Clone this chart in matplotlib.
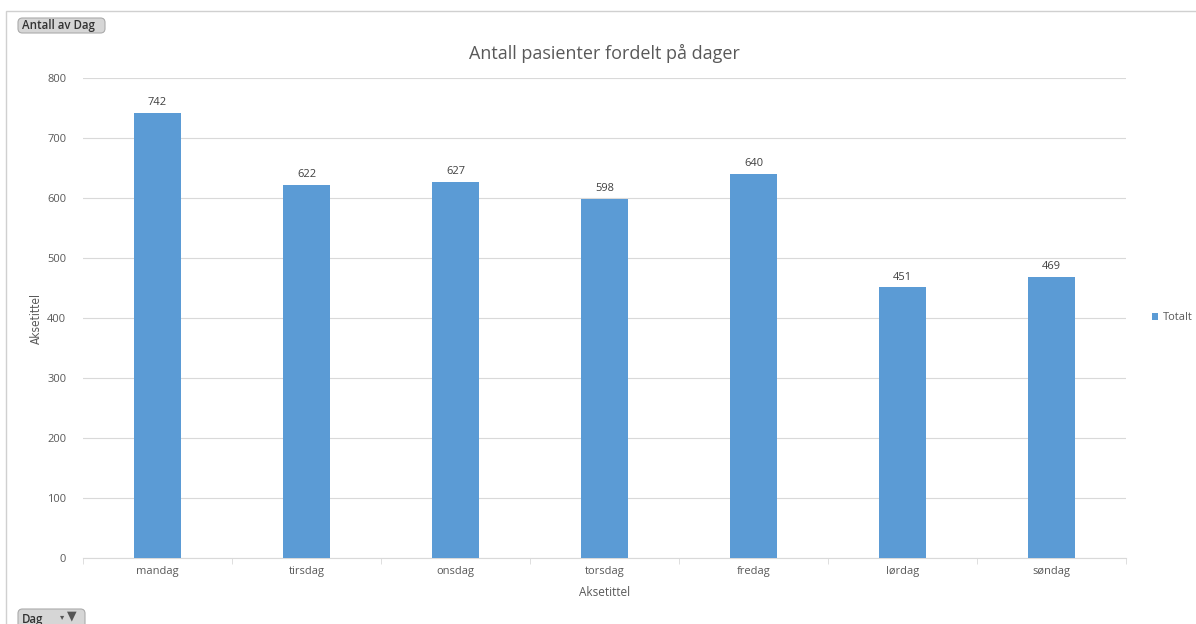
import matplotlib.pyplot as plt
from matplotlib.patches import FancyBboxPatch, Rectangle
from matplotlib.ticker import FixedLocator

# === Data ===
days = ["mandag", "tirsdag", "onsdag", "torsdag", "fredag", "lørdag", "søndag"]
totals = [742, 622, 627, 598, 640, 451, 469]

plt.rcParams['font.family'] = ['Open Sans', 'DejaVu Sans']

bar_color = "#5B9BD5"
grid_color = "#D9D9D9"
text_color = "#595959"

fig = plt.figure(figsize=(11.96, 6.24), dpi=100)
ax = fig.add_axes([83/1196, 1 - 558/624, (1126 - 83)/1196, (558 - 78)/624])

x = list(range(len(days)))
bars = ax.bar(x, totals, width=0.32, color=bar_color, zorder=3)

for b, v in zip(bars, totals):
    ax.annotate(str(v), (b.get_x() + b.get_width()/2, v), xytext=(0, 3.5),
                textcoords="offset points", ha="center", va="bottom",
                fontsize=8, color="#404040")

ax.set_xlim(-0.5, len(days) - 0.5)
ax.set_ylim(0, 800)
ax.set_yticks(range(0, 801, 100))
ax.set_xticks(x)
ax.set_xticklabels(days)
ax.xaxis.set_minor_locator(FixedLocator([i + 0.5 for i in range(-1, len(days))]))

ax.grid(axis='y', color=grid_color, linewidth=0.8, zorder=0)
for s in ["top", "right", "left"]:
    ax.spines[s].set_visible(False)
ax.spines["bottom"].set_color(grid_color)

ax.tick_params(axis='y', length=0, pad=12, labelsize=8, labelcolor=text_color)
ax.tick_params(axis='x', which='major', length=0, pad=6, labelsize=8, labelcolor=text_color)
ax.tick_params(axis='x', which='minor', length=4, color=grid_color)

ax.set_title("Antall pasienter fordelt på dager", fontsize=13, color=text_color, pad=14)
ax.set_xlabel("Aksetittel", fontsize=8.5, color=text_color, labelpad=6)
ax.set_ylabel("Aksetittel", fontsize=8.5, color=text_color, family="DejaVu Sans",
              fontstretch="condensed")
ax.yaxis.set_label_coords(-0.038, 0.5)

# legend
ax.legend([bars[0]], ["Totalt"], loc="center left", bbox_to_anchor=(1.015, 0.5),
          frameon=False, fontsize=8, handlelength=0.6, handleheight=0.6,
          handletextpad=0.4, labelcolor=text_color)

# outer frame
fig.patches.append(Rectangle((6/1196, -0.1), 1.2, 1 - 11/624 + 0.1,
                             transform=fig.transFigure, fill=False,
                             edgecolor="#D0D0D0", linewidth=1))

# pivot field buttons (positions in pixels, drawn in inches)
def button(x0, y0, w, h, label):
    fig.patches.append(FancyBboxPatch((x0/100, (624 - y0 - h)/100), w/100, h/100,
                                      boxstyle="round,pad=0,rounding_size=0.045",
                                      transform=fig.dpi_scale_trans,
                                      facecolor="#D6D6D6", edgecolor="#ABABAB",
                                      linewidth=0.8))
    fig.text((x0 + 4)/1196, 1 - (y0 + h/2)/624, label, fontsize=8.3,
             color="#333333", va="center", ha="left", fontweight="semibold")

button(18, 18, 87, 15, "Antall av Dag")
button(18, 609, 67, 20, "Dag")
# filter icon
fig.text(72/1196, 1 - 616/624, "▼", fontsize=9, color="#555555",
         va="center", ha="center", family="DejaVu Sans")
fig.text(62/1196, 1 - 617/624, "▾", fontsize=6, color="#555555",
         va="center", ha="center", family="DejaVu Sans")

fig.savefig("out.png", dpi=100)
